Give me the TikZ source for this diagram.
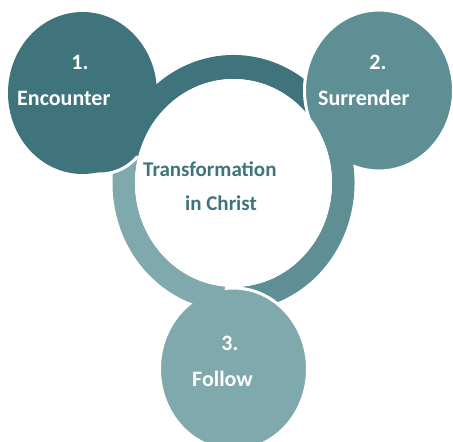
\documentclass[tikz,border=0pt]{standalone}
\usepackage{fontspec}
\setmainfont{Carlito}
\usetikzlibrary{calc,shapes.geometric}
\definecolor{tdark}{HTML}{3F747D}
\definecolor{tmid}{HTML}{5E8F95}
\definecolor{tlight}{HTML}{7FA9AC}
\newcommand{\ringseg}[3]{\fill[#1] ($(ctr)+(#2:121pt and 128pt)$) arc[start angle=#2, end angle=#3, x radius=121pt, y radius=128pt] -- ($(ctr)+(#3:98.5pt and 104pt)$) arc[start angle=#3, end angle=#2, x radius=98.5pt, y radius=104pt] -- cycle;}
\tikzset{
  bubble/.style={ellipse, inner sep=0pt, minimum width=149pt, minimum height=162pt},
  gapline/.style={draw=white, line width=3pt},
  steptext/.style={text=white, font=\bfseries\fontsize{22}{26}\selectfont, inner sep=0pt},
  centertext/.style={text=tdark, font=\bfseries\fontsize{21}{25}\selectfont, inner sep=0pt, anchor=base west}
}
\begin{document}
\begin{tikzpicture}[x=1pt,y=1pt]
\useasboundingbox (0,0) rectangle (453,442);
\coordinate (ctr) at (233.5,259);
% light segment (first pass)
\ringseg{tlight}{265}{160}
% cap that shapes the gap before Encounter
\fill[tdark] (100,317) circle [radius=49pt];
\draw[gapline] (100,317) circle [radius=49pt];
% Encounter
\node[bubble, fill=tdark] (enc) at (82.5,349) {};
\ringseg{tdark}{165}{25}
% Surrender
\node[bubble, fill=tmid, gapline, minimum height=161pt] (sur) at (379,351.5) {};
\ringseg{tmid}{28}{-95}
% Follow
\node[bubble, fill=tlight, gapline, minimum width=148pt] (fol) at (233.5,73) {};
\ringseg{tlight}{265}{200}
% inner white disc
\fill[white] (ctr) ellipse [x radius=98.5pt, y radius=104pt];
% texts
\node[steptext, anchor=base] (n1) at (80,372) {1.};
\node[steptext, anchor=base west] (t1) at (17,336) {Encounter};
\node[steptext, anchor=base] (n2) at (378,372) {2.};
\node[steptext, anchor=base west] (t2) at (318,336) {Surrender};
\node[steptext, anchor=base] (n3) at (230,91) {3.};
\node[steptext, anchor=base west] (t3) at (192,55) {Follow};
\node[centertext] (c1) at (143,265) {Transformation};
\node[centertext] (c2) at (185,231) {in Christ};
\end{tikzpicture}
\end{document}
